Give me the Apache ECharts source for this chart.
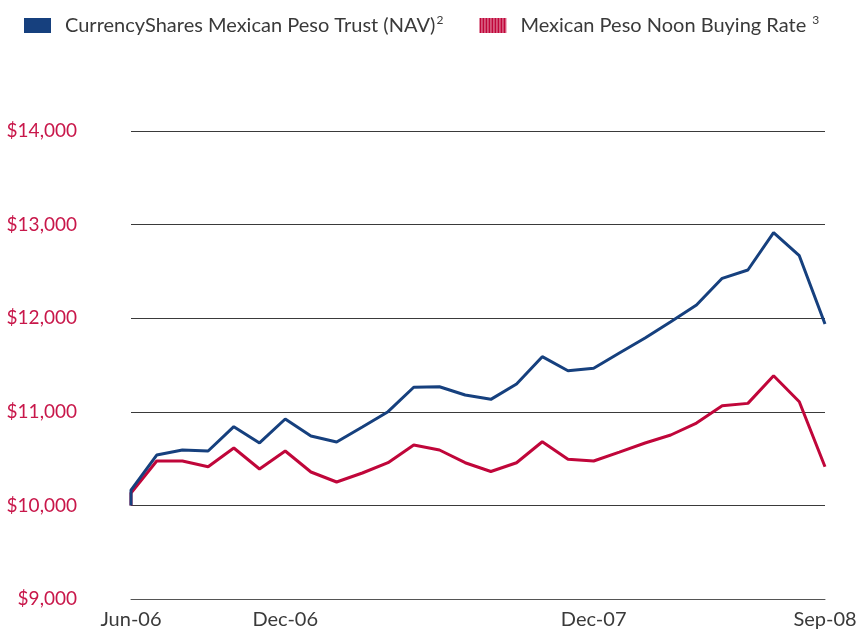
<!DOCTYPE html>
<html>
<head>
<meta charset="utf-8">
<script src="https://cdn.jsdelivr.net/npm/echarts@6/dist/echarts.min.js"></script>
<style>
  html, body { margin: 0; padding: 0; background: #fff; }
  #main { width: 859px; height: 630px; }
</style>
</head>
<body>
<div id="main"></div>
<script>
// monthly points, Jun-06 .. Sep-08
const months = ['Jun-06','Jul-06','Aug-06','Sep-06','Oct-06','Nov-06','Dec-06','Jan-07','Feb-07','Mar-07',
  'Apr-07','May-07','Jun-07','Jul-07','Aug-07','Sep-07','Oct-07','Nov-07','Dec-07','Jan-08',
  'Feb-08','Mar-08','Apr-08','May-08','Jun-08','Jul-08','Aug-08','Sep-08'];
const tickLabels = ['Jun-06', 'Dec-06', 'Dec-07', 'Sep-08'];
const startValue = 10000;
const trustNav = [10164, 10538, 10592, 10581, 10841, 10667, 10923, 10741, 10677, 10838,
  11001, 11262, 11268, 11179, 11133, 11297, 11589, 11439, 11465, 11628,
  11788, 11963, 12141, 12426, 12515, 12914, 12668, 11938];
const noonRate = [10132, 10474, 10474, 10413, 10613, 10389, 10581, 10357, 10250, 10346,
  10456, 10645, 10592, 10456, 10362, 10456, 10680, 10492, 10474, 10570,
  10667, 10752, 10880, 11065, 11090, 11385, 11108, 10413];

const toPoints = vals => [[0, startValue]].concat(vals.map((v, i) => [i, v]));

// striped legend swatch for the noon rate series
const pat = document.createElement('canvas');
pat.width = 3; pat.height = 3;
const pctx = pat.getContext('2d');
pctx.fillStyle = '#c0063a'; pctx.fillRect(0, 0, 3, 3);
pctx.fillStyle = '#e79ab0'; pctx.fillRect(2, 0, 1, 3);

const chart = echarts.init(document.getElementById('main'));
const font = 'Lato, "Open Sans", sans-serif';

chart.setOption({
  animation: false,
  textStyle: { fontFamily: font },
  legend: {
    top: 9,
    left: 19,
    itemWidth: 27,
    itemHeight: 15,
    itemGap: 36,
    icon: 'rect',
    textStyle: {
      fontSize: 20, color: '#3a3a3a', fontFamily: font,
      padding: [0, 0, 0, 9],
      rich: {
        sup: { fontSize: 12, verticalAlign: 'top', padding: [0, 0, 11, 1], color: '#3a3a3a' }
      }
    },
    formatter: name => name === 'trust'
      ? 'CurrencyShares Mexican Peso Trust (NAV){sup|2}'
      : 'Mexican Peso Noon Buying Rate {sup|3}',
    data: [
      { name: 'trust', itemStyle: { color: '#16407e' } },
      { name: 'noon', itemStyle: { color: { image: pat, repeat: 'repeat' } } }
    ]
  },
  grid: { left: 131, right: 34, top: 131, bottom: 31, containLabel: false, outerBoundsMode: 'none' },
  xAxis: {
    type: 'value',
    min: 0,
    max: months.length - 1,
    axisLine: { show: true, lineStyle: { color: '#555', width: 1 } },
    axisTick: { show: false },
    splitLine: { show: false },
    axisLabel: {
      customValues: tickLabels.map(t => months.indexOf(t)),
      formatter: v => months[v],
      fontSize: 20,
      color: '#3a3a3a',
      margin: 11
    }
  },
  yAxis: {
    type: 'value',
    min: 9000,
    max: 14000,
    interval: 1000,
    axisLine: { show: false },
    axisTick: { show: false },
    splitLine: { lineStyle: { color: '#3a3a3a', width: 1 } },
    axisLabel: {
      formatter: v => '$' + v.toLocaleString('en-US'),
      fontSize: 19,
      color: '#c8174a',
      margin: 54
    }
  },
  series: [
    {
      name: 'noon',
      type: 'line',
      data: toPoints(noonRate),
      showSymbol: false,
      lineStyle: { color: '#c0063a', width: 3 },
      itemStyle: { color: '#c0063a' }
    },
    {
      name: 'trust',
      type: 'line',
      data: toPoints(trustNav),
      showSymbol: false,
      lineStyle: { color: '#16407e', width: 3 },
      itemStyle: { color: '#16407e' }
    }
  ]
});
</script>
</body>
</html>
